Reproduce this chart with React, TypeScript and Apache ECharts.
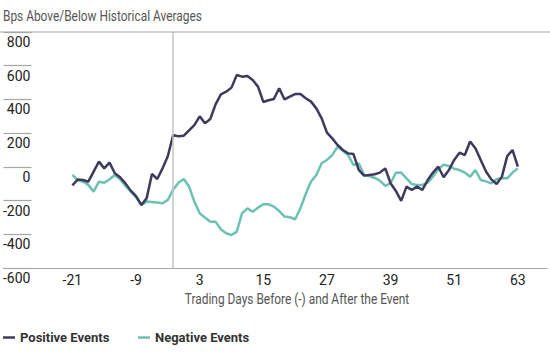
import React, { useEffect, useRef } from "react";
import * as echarts from "echarts";

const FIRST_DAY = -21;
const LAST_DAY = 63;
const days: number[] = [];
for (let d = FIRST_DAY; d <= LAST_DAY; d++) days.push(d);

const xTickLabels = [-21, -9, 3, 15, 27, 39, 51, 63];
const yTickLabels = [-600, -400, -200, 0, 200, 400, 600, 800];
const eventDay = -2;

const positiveEvents = [
  -110, -75, -78, -88, -28, 31, -9, 25, -38, -62,
  -98, -141, -173, -226, -187, -42, -72, -9, 64, 189,
  181, 185, 217, 248, 300, 258, 284, 371, 430, 446,
  470, 545, 535, 539, 515, 476, 385, 395, 403, 466,
  400, 417, 432, 432, 407, 387, 347, 288, 203, 169,
  130, 100, 80, 76, -18, -52, -48, -44, -34, -9,
  -97, -143, -202, -117, -137, -117, -137, -78, -34, 1,
  -62, -19, 41, 84, 70, 150, 110, 41, -28, -74,
  -102, -58, 64, 100, 1,
];

const negativeEvents = [
  -48, -78, -88, -107, -147, -88, -94, -74, -48, -74,
  -113, -147, -181, -226, -206, -208, -212, -216, -196, -135,
  -94, -72, -117, -206, -275, -301, -325, -325, -370, -394,
  -404, -384, -275, -246, -266, -242, -222, -222, -236, -262,
  -295, -299, -311, -246, -161, -87, -48, 21, 41, 70,
  120, 96, 70, 11, 21, -48, -54, -66, -82, -113,
  -97, -35, -34, -68, -102, -107, -107, -94, -58, -15,
  13, 5, -11, -19, -34, -58, -19, -78, -86, -98,
  -74, -68, -68, -34, -9,
];

const FONT = "Roboto, 'Liberation Sans', sans-serif";
const DARK = "#3d3b5c";
const TEAL = "#6cc2b2";

export default function App() {
  const ref = useRef<HTMLDivElement>(null);
  useEffect(() => {
    document.body.style.margin = "0";
    if (!ref.current) return;
    const chart = echarts.init(ref.current, null, { renderer: "svg" });
    const pos = days.map((d, i) => [d, positiveEvents[i]]);
    const neg = days.map((d, i) => [d, negativeEvents[i]]);
    const legendText = { fontFamily: FONT, fontSize: 13, fontWeight: "bold", color: "#333333" };
    chart.setOption({
      animation: false,
      backgroundColor: "#ffffff",
      textStyle: { fontFamily: FONT },
      grid: { left: 0, right: 0, top: 32, bottom: 86, containLabel: false },
      xAxis: {
        type: "value",
        min: -34,
        max: 68.5,
        interval: 1,
        axisLine: { show: true, onZero: false, lineStyle: { color: "#a6a6a6", width: 1.2 } },
        axisTick: { show: false },
        splitLine: { show: false },
        axisLabel: {
          margin: 5,
          fontFamily: FONT,
          fontSize: 14,
          color: "#222222",
          formatter: (v: number) => {
            const r = Math.round(v);
            return Math.abs(r - v) < 1e-6 && xTickLabels.includes(r) ? String(r) : "";
          },
        },
      },
      yAxis: {
        type: "value",
        min: yTickLabels[0],
        max: yTickLabels[yTickLabels.length - 1],
        interval: 200,
        axisLine: { show: false, onZero: false },
        axisTick: { show: true, inside: true, length: 28, lineStyle: { color: "#a6a6a6", width: 1.2 } },
        splitLine: { show: false },
        axisLabel: {
          inside: true,
          margin: 27,
          align: "right",
          verticalAlign: "top",
          lineHeight: 14,
          padding: [3, 0, 0, 0],
          fontFamily: FONT,
          fontSize: 14,
          color: "#222222",
        },
      },
      legend: [
        {
          left: 3,
          top: 331,
          padding: 0,
          itemWidth: 12,
          itemHeight: 2.5,
          icon: "rect",
          textStyle: legendText,
          data: ["Positive Events"],
        },
        {
          left: 138,
          top: 331,
          padding: 0,
          itemWidth: 12,
          itemHeight: 2.5,
          icon: "rect",
          textStyle: legendText,
          data: ["Negative Events"],
        },
      ],
      graphic: [
        {
          type: "line",
          shape: { x1: 0, y1: 32, x2: 550, y2: 32 },
          style: { stroke: "#a6a6a6", lineWidth: 1.2 },
          z: 10,
        },
        {
          type: "text",
          x: 3,
          y: 16,
          scaleX: 0.85,
          style: {
            text: "Bps Above/Below Historical Averages",
            fontFamily: FONT,
            fontSize: 14,
            fill: "#555555",
            textAlign: "left",
            textVerticalAlign: "middle",
          },
        },
        {
          type: "text",
          x: 297,
          y: 299,
          scaleX: 0.85,
          style: {
            text: "Trading Days Before (-) and After the Event",
            fontFamily: FONT,
            fontSize: 14,
            fill: "#555555",
            textAlign: "center",
            textVerticalAlign: "middle",
          },
        },
      ],
      series: [
        {
          name: "Negative Events",
          type: "line",
          data: neg,
          symbol: "none",
          lineStyle: { color: TEAL, width: 2.5 },
          itemStyle: { color: TEAL },
          z: 2,
        },
        {
          name: "Positive Events",
          type: "line",
          data: pos,
          symbol: "none",
          lineStyle: { color: DARK, width: 2.5 },
          itemStyle: { color: DARK },
          z: 3,
          markLine: {
            silent: true,
            symbol: "none",
            label: { show: false },
            lineStyle: { color: "#c4c4c4", width: 1.5, type: "solid" },
            data: [{ xAxis: eventDay }],
          },
        },
      ],
    });
    return () => chart.dispose();
  }, []);
  return <div ref={ref} style={{ width: 550, height: 354 }} />;
}
